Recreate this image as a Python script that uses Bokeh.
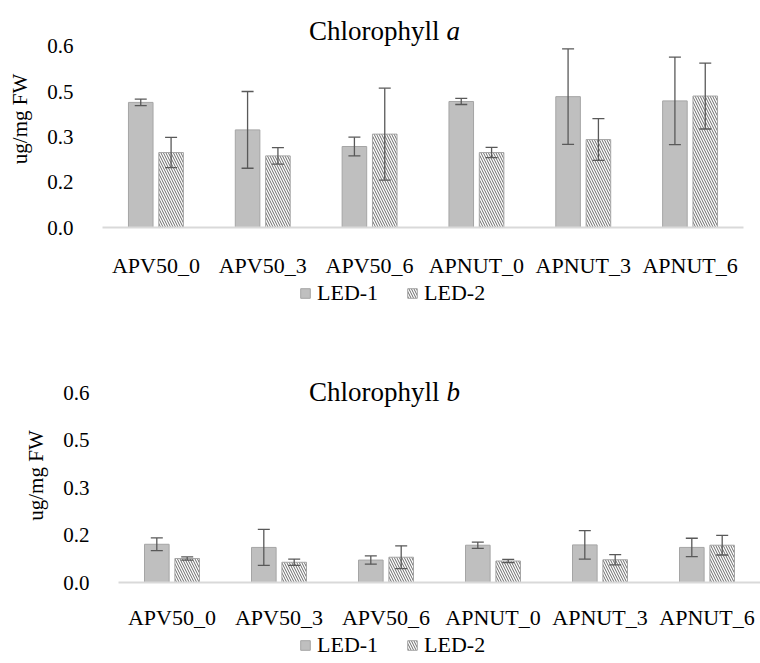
from bokeh.plotting import figure
from bokeh.models import (ColumnDataSource, FactorRange, Range1d, FixedTicker,
                          Whisker, TeeHead, Label, Legend, LegendItem)
from bokeh.transform import dodge
from bokeh.embed import file_html
from bokeh.resources import INLINE

# ---------------- data ----------------
categories = ["APV50_0", "APV50_3", "APV50_6", "APNUT_0", "APNUT_3", "APNUT_6"]
series_names = ["LED-1", "LED-2"]

chl_a_led1 = [0.414, 0.323, 0.268, 0.417, 0.433, 0.419]
chl_a_led1_err = [0.011, 0.127, 0.031, 0.010, 0.158, 0.145]
chl_a_led2 = [0.248, 0.237, 0.309, 0.248, 0.291, 0.435]
chl_a_led2_err = [0.050, 0.027, 0.152, 0.017, 0.069, 0.109]

chl_b_led1 = [0.121, 0.111, 0.071, 0.118, 0.119, 0.111]
chl_b_led1_err = [0.020, 0.057, 0.013, 0.010, 0.045, 0.029]
chl_b_led2 = [0.076, 0.064, 0.080, 0.068, 0.072, 0.118]
chl_b_led2_err = [0.005, 0.010, 0.036, 0.005, 0.016, 0.031]

y_max = 0.6
y_ticks = [0.0, 0.15, 0.30, 0.45, 0.60]
y_tick_labels = ["0.0", "0.2", "0.3", "0.5", "0.6"]
y_label = "ug/mg FW"

FONT = "Liberation Serif"
TXT = "black"
GRAY_FILL = "#bfbfbf"
OUTLINE = "#a5a5a5"
ERR = "#595959"
HATCH = dict(hatch_pattern="\\", hatch_color="#6a6a6a", hatch_scale=5, hatch_weight=1)
OFF = 0.142
BAR_W = 0.23


def make_source(led1, led1_err, led2, led2_err):
    return ColumnDataSource(dict(
        cat=categories,
        led1=led1, led1_lo=[m - e for m, e in zip(led1, led1_err)],
        led1_hi=[m + e for m, e in zip(led1, led1_err)],
        led2=led2, led2_lo=[m - e for m, e in zip(led2, led2_err)],
        led2_hi=[m + e for m, e in zip(led2, led2_err)],
    ))


def add_bars(p, src, visible=True):
    r1 = p.vbar(x=dodge("cat", -OFF, range=p.x_range), top="led1", width=BAR_W,
                source=src, fill_color=GRAY_FILL, line_color=OUTLINE, line_width=1,
                visible=visible)
    r2 = p.vbar(x=dodge("cat", OFF, range=p.x_range), top="led2", width=BAR_W,
                source=src, fill_color="white", line_color=OUTLINE, line_width=1,
                visible=visible, **HATCH)
    return r1, r2


def make_chart(src, title_main, title_it, border_left, border_right, border_top,
               extra_top, data_h, border_bottom, title_x, title_dy, label_standoff):
    frame_h = data_h + extra_top          # frame also holds the chart title
    y_end = y_max * frame_h / data_h
    p = figure(x_range=FactorRange(factors=categories), y_range=Range1d(0, y_end),
               width=760, height=border_top + frame_h + border_bottom, title=None,
               output_backend="svg", toolbar_location=None,
               min_border_left=border_left, min_border_right=border_right,
               min_border_top=border_top, min_border_bottom=border_bottom,
               outline_line_color=None, background_fill_color="white",
               border_fill_color="white")
    add_bars(p, src)
    for key, d in (("led1", -OFF), ("led2", OFF)):
        wk = Whisker(base=dodge("cat", d, range=p.x_range), upper=key + "_hi",
                     lower=key + "_lo", source=src, line_color=ERR, line_width=1.3,
                     level="annotation",
                     upper_head=TeeHead(size=12, line_color=ERR, line_width=1.3),
                     lower_head=TeeHead(size=12, line_color=ERR, line_width=1.3))
        p.add_layout(wk)

    # axes
    p.grid.visible = False
    xa = p.xaxis[0]
    xa.axis_line_color = "#d9d9d9"
    xa.axis_line_width = 2
    xa.major_tick_line_color = None
    xa.minor_tick_line_color = None
    xa.major_label_text_font = FONT
    xa.major_label_text_font_size = "22px"
    xa.major_label_text_color = TXT
    xa.major_label_standoff = label_standoff

    ya = p.yaxis[0]
    ya.ticker = FixedTicker(ticks=y_ticks)
    ya.major_label_overrides = {t: l for t, l in zip(y_ticks, y_tick_labels)}
    ya.axis_line_color = None
    ya.major_tick_line_color = None
    ya.minor_tick_line_color = None
    ya.major_label_text_font = FONT
    ya.major_label_text_font_size = "21px"
    ya.major_label_text_color = TXT
    ya.major_label_standoff = 23
    ya.axis_label = y_label
    ya.axis_label_text_font = FONT
    ya.axis_label_text_font_style = "normal"
    ya.axis_label_text_font_size = "21px"
    ya.axis_label_text_color = TXT
    ya.axis_label_standoff = 12

    # title: regular word + italic letter
    split_x = title_x + 131
    p.add_layout(Label(x=0, y=y_max, x_offset=split_x - border_left, y_offset=title_dy,
                       text=title_main, text_align="right", text_baseline="alphabetic",
                       text_font=FONT, text_font_size="27px", text_color=TXT))
    p.add_layout(Label(x=0, y=y_max, x_offset=split_x + 7 - border_left, y_offset=title_dy,
                       text=title_it, text_align="left", text_baseline="alphabetic",
                       text_font=FONT, text_font_size="27px", text_font_style="italic",
                       text_color=TXT))
    return p


def make_legend(src, height, loc):
    f = figure(width=760, height=height, x_range=FactorRange(factors=categories),
               y_range=Range1d(0, 1), title=None, output_backend="svg",
               toolbar_location=None, x_axis_location=None, y_axis_location=None,
               min_border=0, outline_line_color=None, background_fill_color="white",
               border_fill_color="white")
    f.grid.visible = False
    a, b = add_bars(f, src, visible=False)   # hidden: only feed the legend swatches
    leg = Legend(items=[LegendItem(label=series_names[0], renderers=[a]),
                        LegendItem(label=series_names[1], renderers=[b])],
                 orientation="horizontal", location=loc,
                 label_text_font=FONT, label_text_font_size="22px",
                 label_text_color=TXT, glyph_width=12, glyph_height=12,
                 label_height=28, label_standoff=6, spacing=28, padding=0, margin=0,
                 inactive_fill_alpha=0,
                 border_line_color=None, background_fill_alpha=0)
    f.add_layout(leg)
    return f


src_a = make_source(chl_a_led1, chl_a_led1_err, chl_a_led2, chl_a_led2_err)
src_b = make_source(chl_b_led1, chl_b_led1_err, chl_b_led2, chl_b_led2_err)

p1 = make_chart(src_a, "Chlorophyll", "a",
                border_left=102, border_right=17, border_top=10, extra_top=37, data_h=188,
                border_bottom=45, title_x=308, title_dy=15, label_standoff=19)
l1 = make_legend(src_a, 48, (299, 21))
p2 = make_chart(src_b, "Chlorophyll", "b",
                border_left=118, border_right=0, border_top=40, extra_top=25, data_h=194,
                border_bottom=45, title_x=308, title_dy=1, label_standoff=16)
l2 = make_legend(src_b, 30, (299, 3))

open("out.html", "w").write(file_html([p1, l1, p2, l2], INLINE))
